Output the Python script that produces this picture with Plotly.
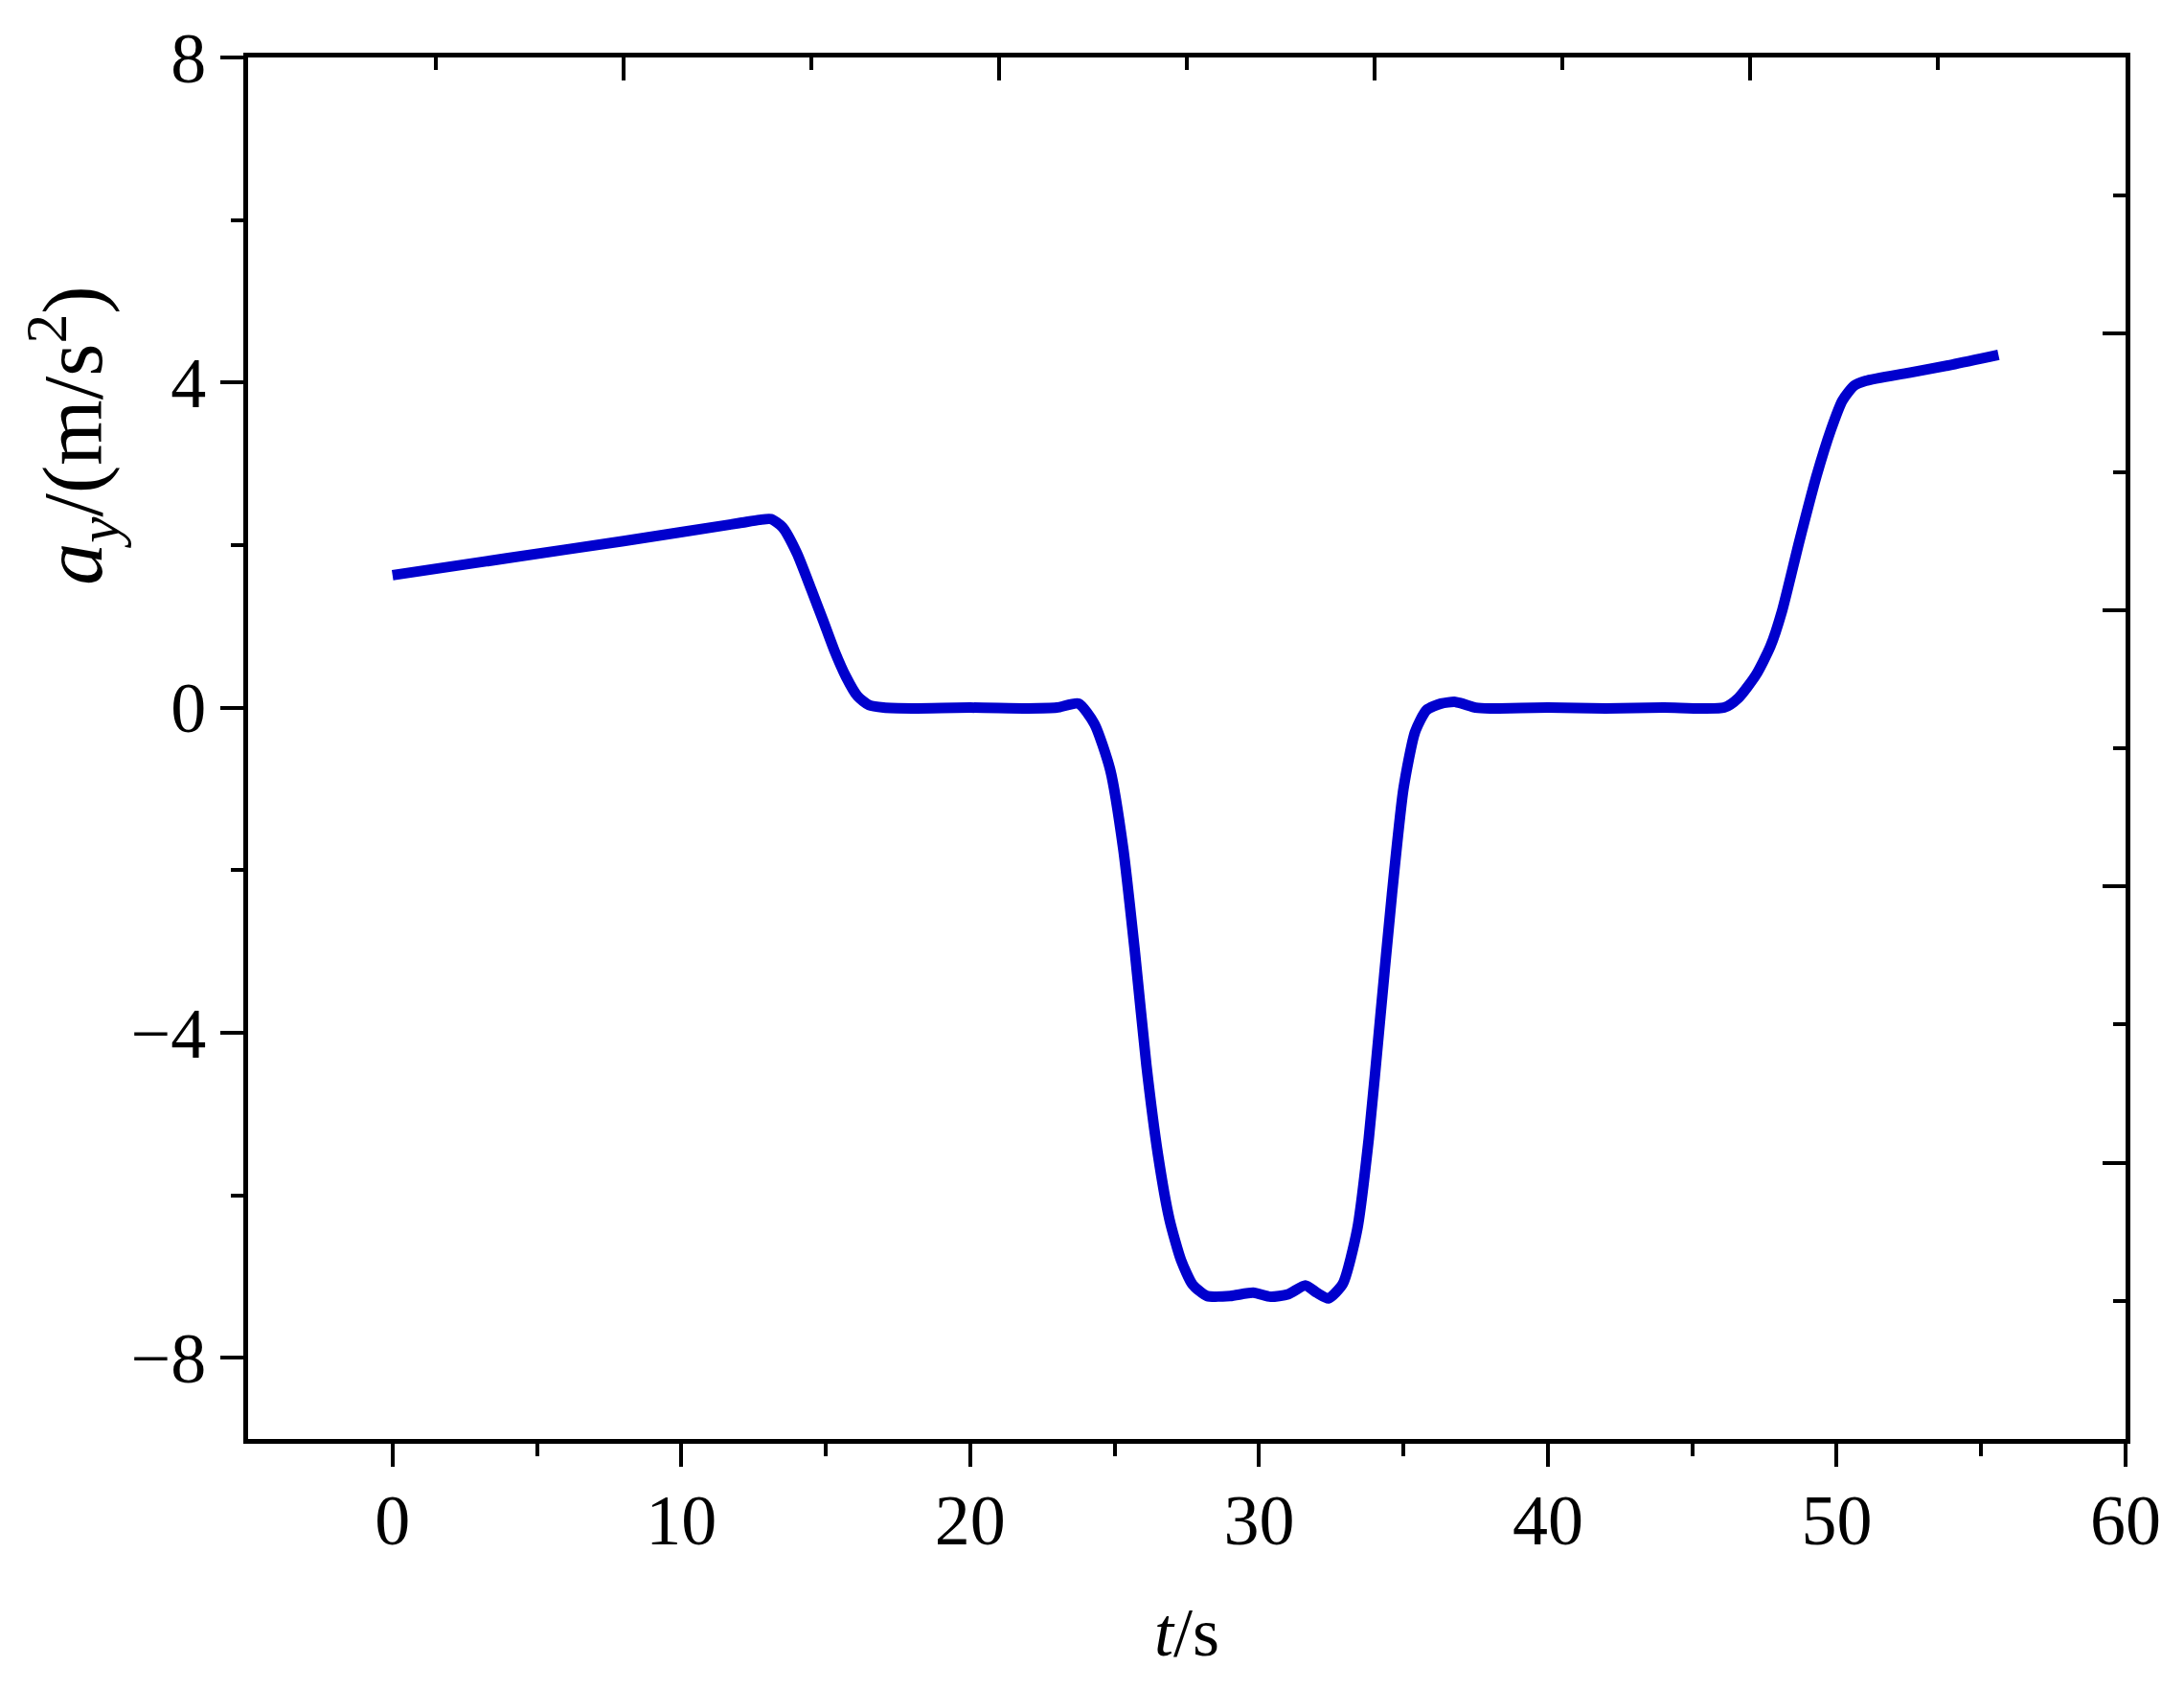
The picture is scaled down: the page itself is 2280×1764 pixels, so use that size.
import plotly.graph_objects as go

# Data
t_vals = [0.0, 4.0, 8.0, 12.0, 12.7, 13.1, 13.5, 14.0, 14.5, 14.9, 15.3, 15.7, 16.1, 16.5, 17.0,
          18.0, 20.0, 22.0, 23.0, 23.75, 24.3, 24.85, 25.3, 25.7, 26.1, 26.5, 26.9, 27.3,
          27.7, 28.2, 29.0, 29.8, 30.4, 31.0, 31.6, 32.0, 32.4, 32.9, 33.4, 33.8, 34.2,
          34.6, 35.0, 35.4, 35.8, 36.3, 36.8, 37.5, 38.0, 40.0, 42.0, 44.0, 46.1, 46.6,
          47.2, 47.7, 48.1, 48.7, 49.3, 49.8, 50.2, 50.6, 51.0, 52.5, 54.0, 55.6]
ay_vals = [1.63, 1.84, 2.05, 2.27, 2.31, 2.32, 2.22, 1.90, 1.45, 1.08, 0.70, 0.38, 0.14, 0.03, 0.0,
           -0.01, 0.0, -0.01, 0.0, 0.05, -0.2, -0.77, -1.74, -3.0, -4.4, -5.5, -6.3, -6.8,
           -7.1, -7.24, -7.24, -7.2, -7.25, -7.22, -7.11, -7.2, -7.27, -7.09, -6.42, -5.3, -3.8,
           -2.3, -1.0, -0.3, -0.03, 0.05, 0.07, 0.0, -0.01, 0.0, -0.01, 0.0, 0.0, 0.12,
           0.4, 0.75, 1.18, 2.04, 2.85, 3.42, 3.78, 3.96, 4.02, 4.12, 4.22, 4.34]

x_major = [0, 10, 20, 30, 40, 50, 60]
x_minor = [5, 15, 25, 35, 45, 55]
y_major = [-8, -4, 0, 4, 8]
y_minor = [-6, -2, 2, 6]
top_major = [8, 21, 34, 47]
top_minor = [1.5, 14.5, 27.5, 40.5, 53.5]
right_major = [-5.6, -2.2, 1.2, 4.6]
right_minor = [-7.3, -3.9, -0.5, 2.9, 6.3]

FONT = "Liberation Serif"
LINE_BLUE = "rgb(0,0,205)"

fig = go.Figure()
fig.add_trace(go.Scatter(x=t_vals, y=ay_vals, mode="lines",
                         line=dict(color=LINE_BLUE, width=11, shape="spline", smoothing=0.6),
                         showlegend=False, hoverinfo="skip"))
# invisible trace to attach the mirrored top/right axes
fig.add_trace(go.Scatter(x=t_vals, y=ay_vals, mode="lines", xaxis="x2", yaxis="y2",
                         line=dict(width=0), opacity=0, showlegend=False, hoverinfo="skip"))

axis_common = dict(showgrid=False, zeroline=False, showline=True, linecolor="black",
                   linewidth=5, tickcolor="black", tickwidth=4)

fig.update_layout(
    width=2280, height=1764,
    paper_bgcolor="white", plot_bgcolor="white",
    margin=dict(l=251, r=69, t=43, b=270),
    font=dict(family=FONT, size=74, color="black"),
    xaxis=dict(range=[-5, 60], tickmode="array", tickvals=x_major, ticks="outside",
               ticklen=24, tickfont=dict(family=FONT, size=74), ticklabelstandoff=-8,
               minor=dict(tickmode="array", tickvals=x_minor, ticks="outside", ticklen=13,
                          tickwidth=4, tickcolor="black"),
               **axis_common),
    yaxis=dict(range=[-9, 8], tickmode="array", tickvals=y_major, ticks="outside",
               ticklen=24, tickfont=dict(family=FONT, size=74),
               minor=dict(tickmode="array", tickvals=y_minor, ticks="outside", ticklen=13,
                          tickwidth=4, tickcolor="black"),
               **axis_common),
    xaxis2=dict(range=[-5, 60], overlaying="x", side="top", tickmode="array",
                tickvals=top_major, ticks="inside", ticklen=24, showticklabels=False,
                minor=dict(tickmode="array", tickvals=top_minor, ticks="inside", ticklen=13,
                           tickwidth=4, tickcolor="black"),
                **axis_common),
    yaxis2=dict(range=[-9, 8], overlaying="y", side="right", tickmode="array",
                tickvals=right_major, ticks="inside", ticklen=24, showticklabels=False,
                minor=dict(tickmode="array", tickvals=right_minor, ticks="inside", ticklen=13,
                           tickwidth=4, tickcolor="black"),
                **axis_common),
    annotations=[
        dict(text="<i>t</i>/s", xref="paper", yref="paper", x=0.5, y=-0.14,
             xanchor="center", yanchor="middle", showarrow=False,
             font=dict(family=FONT, size=72)),
        dict(text="<i>a</i><sub><i>y</i></sub>/(m/s<sup>2</sup>)", xref="paper", yref="paper",
             x=-0.094, y=0.726, xanchor="center", yanchor="middle", showarrow=False,
             textangle=-90, font=dict(family=FONT, size=88)),
    ],
)

fig.write_html("out.html")
